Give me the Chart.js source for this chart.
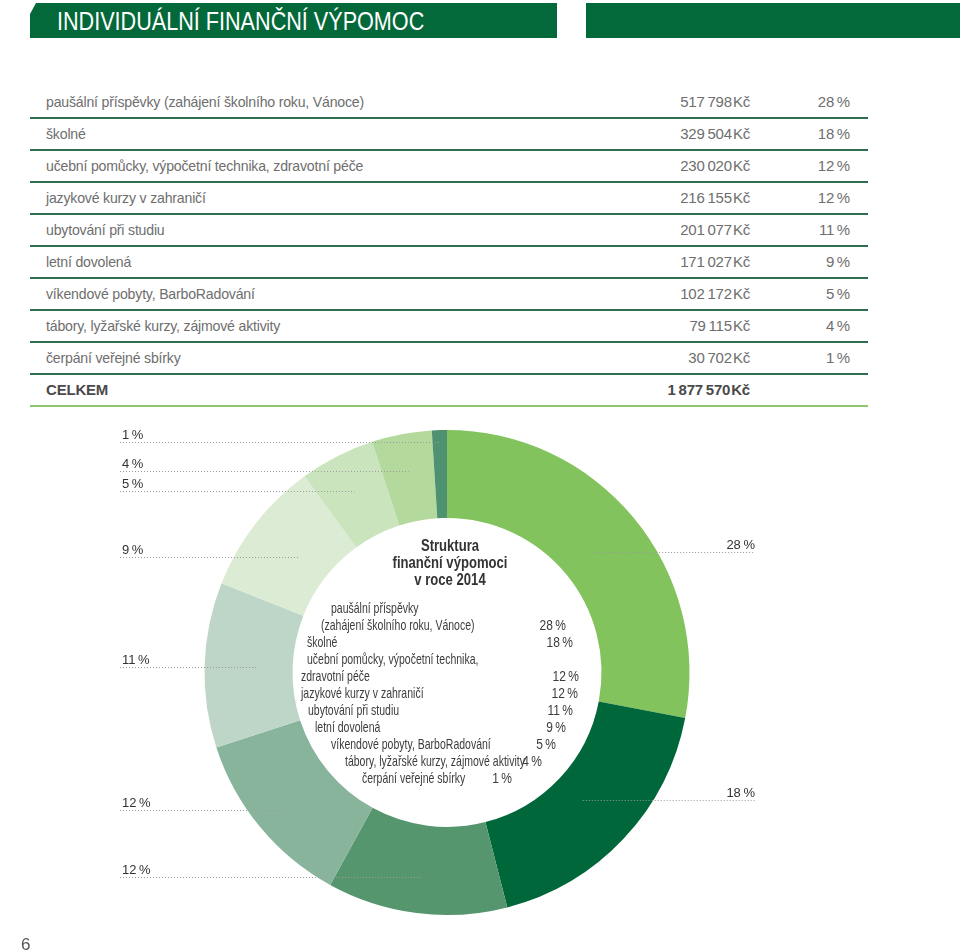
<!DOCTYPE html>
<html lang="cs">
<head>
<meta charset="utf-8">
<title>Individuální finanční výpomoc</title>
<script src="https://cdn.jsdelivr.net/npm/chart.js@4.4.1/dist/chart.umd.min.js"></script>
<style>
  html, body { margin: 0; padding: 0; background: #fff; }
  body { width: 960px; height: 951px; position: relative; overflow: hidden; font-family: "Liberation Sans", Arial, sans-serif; }
  .hdr { position: absolute; top: 3px; height: 35px; background: #03683a; }
  .hdr1 { left: 30px; width: 527px; clip-path: polygon(6px 0, 100% 0, 100% 100%, 0 100%, 0 11px); }
  .hdr2 { left: 586px; width: 374px; }
  .hdr1 span { position: absolute; left: 27px; top: 3px; color: #fff; font-size: 25px; line-height: 30px; white-space: nowrap; transform-origin: 0 50%; }
  #tbl { position: absolute; left: 30px; top: 87px; width: 838px; }
  .row { position: relative; height: 32px; box-sizing: border-box; border-bottom: 2px solid #2f6f50; font-size: 15px; line-height: 30px; color: #6e6e6e; letter-spacing: -0.2px; }
  .row.total { border-bottom-color: #8cc86a; font-weight: bold; color: #4a4a4a; }
  .row .name { position: absolute; left: 16px; white-space: nowrap; transform: scaleX(0.94); transform-origin: 0 50%; }
  .row .amt { position: absolute; right: 118px; }
  .row .pct { position: absolute; right: 18px; }
  #wrap { position: absolute; left: 0; top: 410px; width: 960px; height: 541px; }
  .page { position: absolute; left: 21px; top: 935px; font-size: 17px; color: #555; }
</style>
</head>
<body>
<div class="hdr hdr1"><span id="title">INDIVIDUÁLNÍ FINANČNÍ VÝPOMOC</span></div>
<div class="hdr hdr2"></div>
<div id="tbl"></div>
<div id="wrap"><canvas id="c"></canvas></div>
<div class="page">6</div>
<script>
const categories = [
  'paušální příspěvky (zahájení školního roku, Vánoce)',
  'školné',
  'učební pomůcky, výpočetní technika, zdravotní péče',
  'jazykové kurzy v zahraničí',
  'ubytování při studiu',
  'letní dovolená',
  'víkendové pobyty, BarboRadování',
  'tábory, lyžařské kurzy, zájmové aktivity',
  'čerpání veřejné sbírky'
];
const amounts = [517798, 329504, 230020, 216155, 201077, 171027, 102172, 79115, 30702];
const shares = [28, 18, 12, 12, 11, 9, 5, 4, 1];
const totalAmount = 1877570;
const totalLabel = 'CELKEM';

// the centre legend wraps a couple of names onto two lines
const centreTitle = ['Struktura', 'finanční výpomoci', 'v roce 2014'];
const centreLines = [
  ['paušální příspěvky', null],
  ['(zahájení školního roku, Vánoce)', 0],
  ['školné', 1],
  ['učební pomůcky, výpočetní technika,', null],
  ['zdravotní péče', 2],
  ['jazykové kurzy v zahraničí', 3],
  ['ubytování při studiu', 4],
  ['letní dovolená', 5],
  ['víkendové pobyty, BarboRadování', 6],
  ['tábory, lyžařské kurzy, zájmové aktivity', 7],
  ['čerpání veřejné sbírky', 8]
];

const sliceColors = ['#82c35d', '#00673a', '#56966f', '#87b49b', '#bed6c8', '#dcecd4', '#cae5bd', '#b3d99d', '#4f9271'];

const fmtKc = v => String(v).replace(/\B(?=(\d{3})+(?!\d))/g, '\u2009') + '\u200aKč';
const fmtPct = v => v + '\u2009%';

// header title is a condensed face in the original; squeeze Arial to the same width
const title = document.getElementById('title');
title.style.transform = 'scaleX(' + (367 / title.offsetWidth).toFixed(3) + ')';

// table
const tbl = document.getElementById('tbl');
categories.forEach((name, i) => {
  const row = document.createElement('div');
  row.className = 'row';
  row.innerHTML = `<span class="name">${name}</span><span class="amt">${fmtKc(amounts[i])}</span><span class="pct">${fmtPct(shares[i])}</span>`;
  tbl.appendChild(row);
});
const totalRow = document.createElement('div');
totalRow.className = 'row total';
totalRow.innerHTML = `<span class="name" style="transform:none">${totalLabel}</span><span class="amt">${fmtKc(totalAmount)}</span>`;
tbl.appendChild(totalRow);

function squeezed(ctx, text, x, y, sx, align) {
  ctx.save();
  ctx.translate(x, y);
  ctx.scale(sx, 1);
  ctx.textAlign = align;
  ctx.fillText(text, 0, 0);
  ctx.restore();
}

const sliceLabels = {
  id: 'sliceLabels',
  afterDatasetsDraw(chart, args, opts) {
    const ctx = chart.ctx;
    const arcs = chart.getDatasetMeta(0).data;
    ctx.save();
    ctx.font = '13px "Liberation Sans", Arial, sans-serif';
    ctx.textBaseline = 'alphabetic';
    arcs.forEach((arc, i) => {
      const p = arc.getProps(['x', 'y', 'startAngle', 'endAngle', 'innerRadius', 'outerRadius'], true);
      const mid = (p.startAngle + p.endAngle) / 2;
      const r = p.innerRadius + (p.outerRadius - p.innerRadius) * opts.anchor[i];
      const px = p.x + Math.cos(mid) * r;
      const py = Math.round(p.y + Math.sin(mid) * r) + 0.5;
      const onRight = px > p.x;
      ctx.strokeStyle = '#9c9c9c';
      ctx.lineWidth = 1;
      ctx.setLineDash([1, 2]);
      ctx.beginPath();
      if (onRight) { ctx.moveTo(px, py); ctx.lineTo(755, py); }
      else { ctx.moveTo(120, py); ctx.lineTo(px, py); }
      ctx.stroke();
      ctx.fillStyle = '#333';
      ctx.textAlign = onRight ? 'right' : 'left';
      ctx.fillText(fmtPct(shares[i]), onRight ? 755 : 122, py - 4);
    });

    // centre text
    const cx = arcs[0].x, cy = arcs[0].y;
    ctx.setLineDash([]);
    ctx.fillStyle = '#333';
    ctx.textBaseline = 'middle';
    ctx.font = 'bold 17px "Liberation Sans", Arial, sans-serif';
    centreTitle.forEach((t, k) => squeezed(ctx, t, cx + 3, cy - 126 + k * 17, 0.77, 'center'));

    const textX = [331, 321, 307, 307, 301, 301, 308, 315, 331, 345, 362];
    const pctX = [0, 566, 573, 0, 579, 578, 573, 566, 556, 542, 512];
    ctx.font = '15px "Liberation Sans", Arial, sans-serif';
    ctx.fillStyle = '#3c3c3c';
    centreLines.forEach(([t, idx], k) => {
      const y = cy - 64 + k * 17;
      squeezed(ctx, t, textX[k] - 447 + cx, y, 0.7, 'left');
      if (idx !== null) squeezed(ctx, fmtPct(shares[idx]), pctX[k] - 447 + cx, y, 0.8, 'right');
    });
    ctx.restore();
  }
};

new Chart(document.getElementById('c').getContext('2d'), {
  type: 'doughnut',
  data: {
    labels: categories,
    datasets: [{
      data: shares,
      backgroundColor: sliceColors,
      borderWidth: 0
    }]
  },
  options: {
    responsive: true,
    maintainAspectRatio: false,
    animation: false,
    cutout: '63.7%',
    layout: { padding: { left: 204.5, right: 270.5, top: 20, bottom: 36 } },
    plugins: {
      legend: { display: false },
      tooltip: { enabled: false },
      // where along the ring each leader line starts (0 = inner edge, 1 = outer edge)
      sliceLabels: { anchor: [0.4, 0.36, 0.59, 0.7, 0.4, 0.38, 0.56, 0.57, 0.86] }
    }
  },
  plugins: [sliceLabels]
});
</script>
</body>
</html>
